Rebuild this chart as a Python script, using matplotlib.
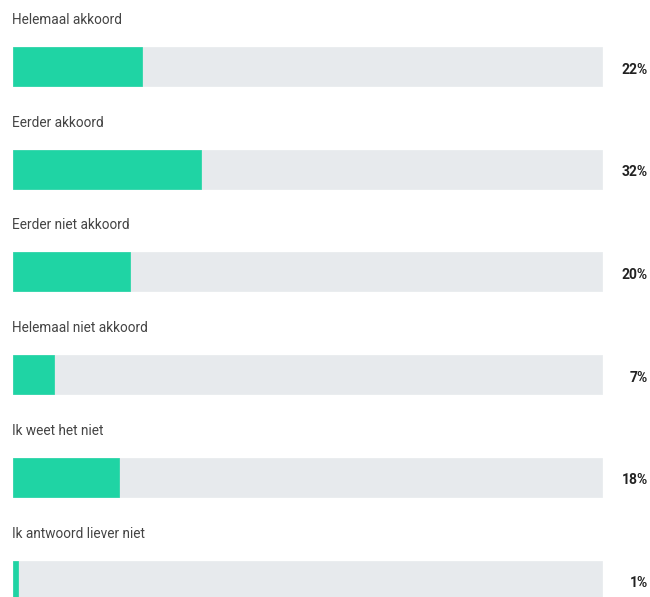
import matplotlib
matplotlib.use('Agg')
import matplotlib.pyplot as plt

answers = ["Helemaal akkoord", "Eerder akkoord", "Eerder niet akkoord",
           "Helemaal niet akkoord", "Ik weet het niet", "Ik antwoord liever niet"]
percent = [22, 32, 20, 7, 18, 1]

green = '#1fd4a4'
track = '#e7eaed'

plt.rcParams['font.family'] = ['Roboto', 'DejaVu Sans']

fig = plt.figure(figsize=(6.5, 5.97), dpi=100)
ax = fig.add_axes([0, 0, 1, 1])

x0 = 12.5        # left edge of the tracks, px
px_x = 5.89      # pixels per percent
row = 102.7      # pixels per row
ax.set_xlim(-x0 / px_x, (650 - x0) / px_x)
top = 66.5 / row
ax.set_ylim(597 / row - top, -top)
ax.axis('off')

y = list(range(len(answers)))
h = 39 / row
ax.barh(y, [100] * len(y), height=h, color=track, edgecolor=track,
        linewidth=0.5, joinstyle='round')
ax.barh(y, percent, height=h, color=green, edgecolor=green,
        linewidth=0.5, joinstyle='round')

for i, (lab, p) in enumerate(zip(answers, percent)):
    ax.text(0, i - 46.5 / row, lab, fontsize=9.8, color='#444444',
            ha='left', va='center')
    ax.text((648 - x0) / px_x, i + 3 / row, f'{p}%', fontsize=10,
            fontweight='bold', color='#222222', ha='right', va='center')

fig.savefig('out.png', dpi=100)
